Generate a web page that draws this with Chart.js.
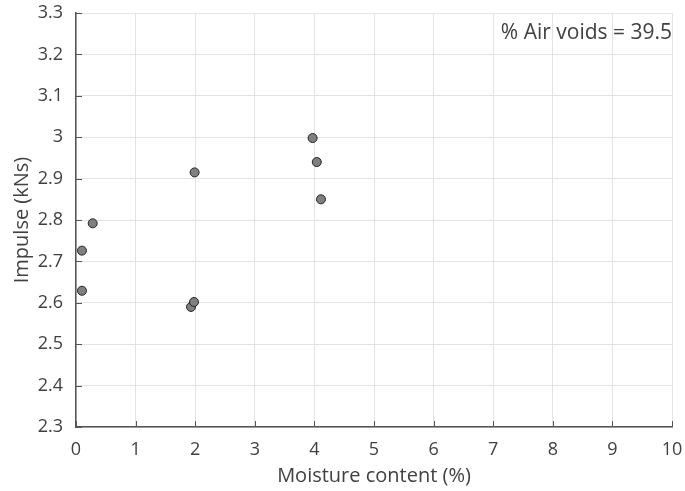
<!DOCTYPE html>
<html>
<head>
<meta charset="utf-8">
<script src="https://cdn.jsdelivr.net/npm/chart.js@4.4.0/dist/chart.umd.min.js"></script>
<style>
  html, body { margin: 0; padding: 0; background: #fff; }
  #wrap { width: 685px; height: 491px; }
</style>
</head>
<body>
<div id="wrap"><canvas id="chart" width="685" height="491"></canvas></div>
<script>
// Moisture content (%) vs impulse (kNs)
const moisture = [0.10, 0.10, 0.28, 1.99, 1.93, 1.98, 3.97, 4.04, 4.11];
const impulse  = [2.629, 2.726, 2.792, 2.915, 2.590, 2.602, 2.998, 2.940, 2.850];
const xTicks = [0, 1, 2, 3, 4, 5, 6, 7, 8, 9, 10];
const yTicks = [2.3, 2.4, 2.5, 2.6, 2.7, 2.8, 2.9, 3, 3.1, 3.2, 3.3];
const note = '% Air voids = 39.5';

const FONT = '"Open Sans", "Noto Sans", sans-serif';
const AXIS = '#555555';
const TEXT = '#404040';

// MATLAB-like inward ticks plus the annotation text
const extras = {
    id: 'extras',
    afterDatasetsDraw(chart) {
        const { ctx, chartArea: a, scales: { x, y } } = chart;
        ctx.save();
        ctx.strokeStyle = AXIS;
        ctx.lineWidth = 1;
        ctx.beginPath();
        xTicks.forEach(v => {
            const px = Math.round(x.getPixelForValue(v)) + 0.5;
            ctx.moveTo(px, a.bottom);
            ctx.lineTo(px, a.bottom - 6);
        });
        yTicks.forEach(v => {
            const py = Math.round(y.getPixelForValue(v)) + 0.5;
            ctx.moveTo(a.left, py);
            ctx.lineTo(a.left + 6, py);
        });
        ctx.stroke();

        ctx.fillStyle = TEXT;
        ctx.font = '21px ' + FONT;
        ctx.textAlign = 'right';
        ctx.textBaseline = 'middle';
        ctx.fillText(note, a.right, a.top + 20);
        ctx.restore();
    }
};

new Chart(document.getElementById('chart'), {
    type: 'scatter',
    data: {
        datasets: [{
            data: moisture.map((m, i) => ({ x: m, y: impulse[i] })),
            backgroundColor: '#808080',
            borderColor: '#222222',
            borderWidth: 1,
            pointRadius: 4.5,
            pointHoverRadius: 4.5
        }]
    },
    options: {
        responsive: false,
        animation: false,
        layout: { padding: { left: 0, right: 13, top: 13, bottom: 0 } },
        plugins: {
            legend: { display: false },
            tooltip: { enabled: false }
        },
        scales: {
            x: {
                type: 'linear',
                min: 0,
                max: 10,
                afterBuildTicks: s => { s.ticks = xTicks.map(v => ({ value: v })); },
                afterFit: s => { s.height = 64; s.paddingLeft = 0; s.paddingRight = 0; },
                grid: { color: '#e3e3e3', drawTicks: false },
                border: { color: AXIS, width: 1.5 },
                ticks: { color: TEXT, font: { family: FONT, size: 18 }, padding: 12, maxRotation: 0 },
                title: {
                    display: true,
                    text: 'Moisture content (%)',
                    color: TEXT,
                    font: { family: FONT, size: 20 },
                    padding: { top: 2, bottom: 3 }
                }
            },
            y: {
                type: 'linear',
                min: 2.3,
                max: 3.3,
                afterBuildTicks: s => { s.ticks = yTicks.map(v => ({ value: v })); },
                afterFit: s => { s.width = 76; s.paddingTop = 0; s.paddingBottom = 0; },
                grid: { color: '#e3e3e3', drawTicks: false },
                border: { color: AXIS, width: 1.5 },
                ticks: {
                    color: TEXT,
                    font: { family: FONT, size: 18 },
                    padding: 13,
                    callback: v => String(v)
                },
                title: {
                    display: true,
                    text: 'Impulse (kNs)',
                    color: TEXT,
                    font: { family: FONT, size: 20 },
                    padding: { top: 10, bottom: 0 }
                }
            }
        }
    },
    plugins: [extras]
});
</script>
</body>
</html>
